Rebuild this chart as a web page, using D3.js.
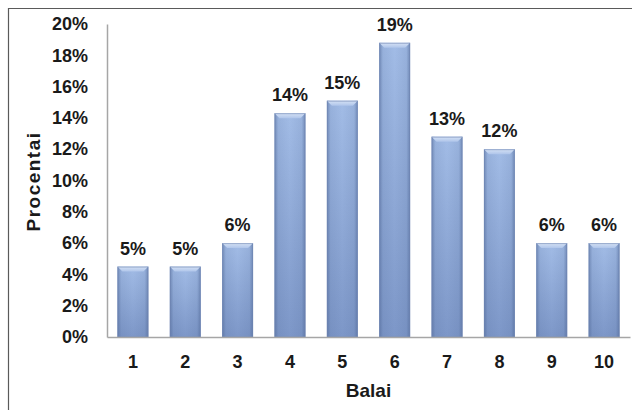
<!DOCTYPE html>
<html>
<head>
<meta charset="utf-8">
<script src="https://cdn.jsdelivr.net/npm/d3@7"></script>
<style>
  html, body { margin: 0; padding: 0; background: #fff; }
  svg { display: block; }
  text { font-family: "Liberation Sans", Arial, sans-serif; font-weight: bold; fill: #1a1a1a; }
</style>
</head>
<body>
<script>
// ---- data ----
const categories = ["1", "2", "3", "4", "5", "6", "7", "8", "9", "10"];
const values = [4.5, 4.5, 6.0, 14.3, 15.1, 18.8, 12.8, 12.0, 6.0, 6.0]; // percent
const valueLabels = ["5%", "5%", "6%", "14%", "15%", "19%", "13%", "12%", "6%", "6%"];
const yTicks = [0, 2, 4, 6, 8, 10, 12, 14, 16, 18, 20];
const xTitle = "Balai";
const yTitle = "Procentai";

const W = 632, H = 410;
const plot = { left: 107, right: 630, top: 24, bottom: 337 };
const FS = 18;

const svg = d3.select("body").append("svg").attr("width", W).attr("height", H);

// frame (cropped border)
svg.append("line").attr("x1", 8).attr("x2", W).attr("y1", 8.5).attr("y2", 8.5)
  .attr("stroke", "#5a5a5a").attr("stroke-width", 1.2);
svg.append("line").attr("x1", 8.5).attr("x2", 8.5).attr("y1", 8).attr("y2", H)
  .attr("stroke", "#5a5a5a").attr("stroke-width", 1.2);

const x = d3.scaleBand().domain(categories).range([plot.left, plot.right]).paddingInner(0.41).paddingOuter(0.2);
const y = d3.scaleLinear().domain([0, 20]).range([plot.bottom, plot.top]);

const defs = svg.append("defs");
const gv = defs.append("linearGradient").attr("id", "gv").attr("x1", 0).attr("x2", 0).attr("y1", 0).attr("y2", 1);
gv.append("stop").attr("offset", "0%").attr("stop-color", "#a2bce6");
gv.append("stop").attr("offset", "100%").attr("stop-color", "#7d97c8");
const gh = defs.append("linearGradient").attr("id", "gh").attr("x1", 0).attr("x2", 1).attr("y1", 0).attr("y2", 0);
gh.append("stop").attr("offset", "0%").attr("stop-color", "#4a6290").attr("stop-opacity", 0.55);
gh.append("stop").attr("offset", "12%").attr("stop-color", "#4a6290").attr("stop-opacity", 0.12);
gh.append("stop").attr("offset", "50%").attr("stop-color", "#4a6290").attr("stop-opacity", 0);
gh.append("stop").attr("offset", "88%").attr("stop-color", "#4a6290").attr("stop-opacity", 0.12);
gh.append("stop").attr("offset", "100%").attr("stop-color", "#4a6290").attr("stop-opacity", 0.55);
const gt = defs.append("linearGradient").attr("id", "gt").attr("x1", 0).attr("x2", 0).attr("y1", 0).attr("y2", 1);
gt.append("stop").attr("offset", "0%").attr("stop-color", "#d6e2f5");
gt.append("stop").attr("offset", "100%").attr("stop-color", "#afc5ea");

// axes
const yAxis = svg.append("g").attr("transform", `translate(${plot.left},0)`)
  .call(d3.axisLeft(y).tickValues(yTicks).tickSize(0).tickPadding(19).tickFormat(d => d + "%"));
yAxis.select(".domain").attr("stroke", "#a6a6a6").attr("stroke-width", 1.5);
yAxis.selectAll("text").attr("font-size", FS).attr("fill", "#1a1a1a")
  .style("font-family", '"Liberation Sans", Arial, sans-serif').style("font-weight", "bold");

// bars
const bars = svg.append("g").selectAll("g").data(values).join("g");
bars.append("rect")
  .attr("x", (d, i) => x(categories[i])).attr("width", x.bandwidth())
  .attr("y", d => y(d)).attr("height", d => y(0) - y(d))
  .attr("fill", "url(#gv)");
bars.append("rect")
  .attr("x", (d, i) => x(categories[i])).attr("width", x.bandwidth())
  .attr("y", d => y(d)).attr("height", d => y(0) - y(d))
  .attr("fill", "url(#gh)");
const bev = 5;
bars.append("path")
  .attr("d", (d, i) => {
    const x0 = x(categories[i]), x1 = x0 + x.bandwidth(), t = y(d);
    return `M${x0},${t}L${x1},${t}L${x1 - bev},${t + bev}L${x0 + bev},${t + bev}Z`;
  })
  .attr("fill", "url(#gt)");
bars.append("rect")
  .attr("x", (d, i) => x(categories[i]) + 0.5).attr("width", x.bandwidth() - 1)
  .attr("y", d => y(d) + 0.5).attr("height", d => y(0) - y(d) - 0.5)
  .attr("fill", "none").attr("stroke", "#6f86b2").attr("stroke-width", 1).attr("stroke-opacity", 0.6);

const xAxis = svg.append("g").attr("transform", `translate(0,${plot.bottom})`)
  .call(d3.axisBottom(x).tickSize(0).tickPadding(18));
xAxis.select(".domain").attr("stroke", "#a6a6a6").attr("stroke-width", 1.5);
xAxis.selectAll("text").attr("font-size", FS).attr("fill", "#1a1a1a")
  .style("font-family", '"Liberation Sans", Arial, sans-serif').style("font-weight", "bold");

// value labels
svg.append("g").selectAll("text").data(values).join("text")
  .attr("x", (d, i) => x(categories[i]) + x.bandwidth() / 2)
  .attr("y", d => y(d) - 12)
  .attr("text-anchor", "middle").attr("font-size", FS)
  .text((d, i) => valueLabels[i]);

// titles
svg.append("text").attr("x", (plot.left + plot.right) / 2).attr("y", 396.5)
  .attr("text-anchor", "middle").attr("font-size", 19).text(xTitle);
svg.append("text").attr("transform", `translate(40,${(plot.top + plot.bottom) / 2 + 1}) rotate(-90)`)
  .attr("text-anchor", "middle").attr("font-size", 19).attr("letter-spacing", 1.5).text(yTitle);
</script>
</body>
</html>
